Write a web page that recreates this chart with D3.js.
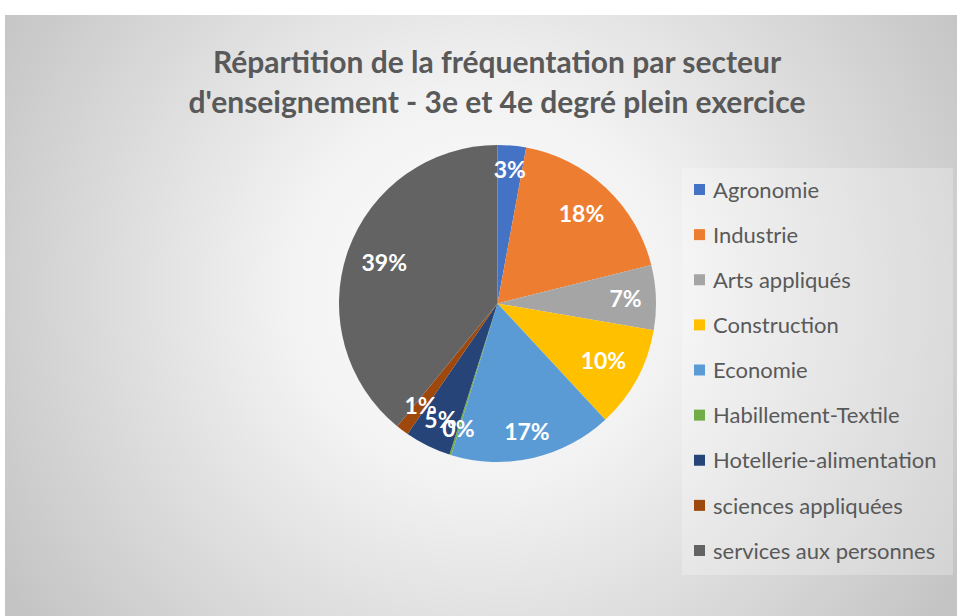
<!DOCTYPE html>
<html>
<head>
<meta charset="utf-8">
<script src="https://cdn.jsdelivr.net/npm/d3@7"></script>
<style>
  body { margin: 0; background: #ffffff; }
  .chart-title { font-family: Lato, sans-serif; font-weight: bold; font-size: 30px; fill: #595959; }
  .legend-label { font-family: Lato, sans-serif; font-size: 22px; fill: #595959; }
  .slice-label { font-family: Lato, sans-serif; font-weight: bold; font-size: 23px; fill: #ffffff; }
</style>
</head>
<body>
<svg id="chart"></svg>
<script>
// data (share of students, %)
const categories = ['Agronomie', 'Industrie', 'Arts appliqués', 'Construction', 'Economie',
  'Habillement-Textile', 'Hotellerie-alimentation', 'sciences appliquées', 'services aux personnes'];
const shares = [2.9, 18.2, 6.6, 10.4, 16.6, 0.2, 4.7, 1.3, 39.1];
const colors = ['#4472C4', '#ED7D31', '#A5A5A5', '#FFC000', '#5B9BD5',
  '#70AD47', '#264478', '#9E480E', '#636363'];
const titleLines = ['Répartition de la fréquentation par secteur',
  "d'enseignement - 3e et 4e degré plein exercice"];

class PieChart {

  constructor(_config, _categories, _values) {
    this.config = {
      parentElement: _config.parentElement,
      containerWidth: _config.containerWidth || 957,
      containerHeight: _config.containerHeight || 616,
      center: _config.center,
      radius: _config.radius
    }
    this.categories = _categories;
    this.values = _values;
    this.initVis();
  }

  initVis() {
    let vis = this;

    vis.svg = d3.select(vis.config.parentElement)
        .attr('width', vis.config.containerWidth)
        .attr('height', vis.config.containerHeight);

    // radial grey background like the office chart area
    const grad = vis.svg.append('defs').append('radialGradient')
        .attr('id', 'bg')
        .attr('gradientUnits', 'userSpaceOnUse')
        .attr('cx', 480).attr('cy', 290).attr('r', 560);
    grad.append('stop').attr('offset', '0').attr('stop-color', '#ffffff');
    grad.append('stop').attr('offset', '0.35').attr('stop-color', '#f2f2f2');
    grad.append('stop').attr('offset', '1').attr('stop-color', '#c4c4c4');

    vis.svg.append('rect')
        .attr('x', 5).attr('y', 15)
        .attr('width', vis.config.containerWidth - 5)
        .attr('height', vis.config.containerHeight - 15)
        .attr('fill', 'url(#bg)');

    vis.svg.append('g')
        .selectAll('text')
        .data(titleLines)
      .join('text')
        .attr('class', 'chart-title')
        .attr('text-anchor', 'middle')
        .attr('x', 497)
        .attr('y', (d, i) => 73 + i * 40)
        .text(d => d);

    vis.colorScale = d3.scaleOrdinal()
        .domain(vis.categories)
        .range(colors);

    vis.chart = vis.svg.append('g')
        .attr('transform', `translate(${vis.config.center[0]},${vis.config.center[1]})`);

    // legend box
    vis.legend = vis.svg.append('g')
        .attr('transform', 'translate(682,168)');
    vis.legend.append('rect')
        .attr('width', 271).attr('height', 407)
        .attr('fill', '#ffffff').attr('fill-opacity', 0.25);

    vis.legendY = d3.scalePoint()
        .domain(vis.categories)
        .range([22, 383]);
  }

  updateVis() {
    let vis = this;

    vis.pie = d3.pie()
        .sort(null)
        .value(d => d.value);

    vis.arcs = vis.pie(vis.categories.map((c, i) => ({ key: c, value: vis.values[i] })));
    vis.total = d3.sum(vis.values);

    vis.arc = d3.arc()
        .innerRadius(0)
        .outerRadius(vis.config.radius);

    vis.renderVis();
  }

  renderVis() {
    let vis = this;
    const r = vis.config.radius;

    vis.chart.selectAll('path')
        .data(vis.arcs)
      .join('path')
        .attr('fill', d => vis.colorScale(d.data.key))
        .attr('d', vis.arc);

    // labels placed at the inside end of each slice
    vis.chart.selectAll('.slice-label')
        .data(vis.arcs)
      .join('text')
        .attr('class', 'slice-label')
        .attr('text-anchor', 'middle')
        .attr('dy', '0.36em')
        .text(d => Math.round(d.data.value / vis.total * 100) + '%')
        .each(function(d) {
          const a = (d.startAngle + d.endAngle) / 2;
          const w = this.getComputedTextLength();
          const ext = Math.abs(Math.sin(a)) * w / 2 + Math.abs(Math.cos(a)) * 8.5;
          const rr = r - 14 - ext;
          d3.select(this)
              .attr('x', Math.sin(a) * rr)
              .attr('y', -Math.cos(a) * rr);
        });

    const items = vis.legend.selectAll('.legend-item')
        .data(vis.categories)
      .join('g')
        .attr('class', 'legend-item')
        .attr('transform', d => `translate(12,${vis.legendY(d)})`);

    items.append('rect')
        .attr('y', -6)
        .attr('width', 11).attr('height', 11)
        .attr('fill', d => vis.colorScale(d));

    items.append('text')
        .attr('class', 'legend-label')
        .attr('x', 19)
        .attr('dy', '0.35em')
        .text(d => d);
  }
}

const chart = new PieChart({ parentElement: '#chart', center: [497.5, 303.5], radius: 158.5 },
  categories, shares);
chart.updateVis();
</script>
</body>
</html>
